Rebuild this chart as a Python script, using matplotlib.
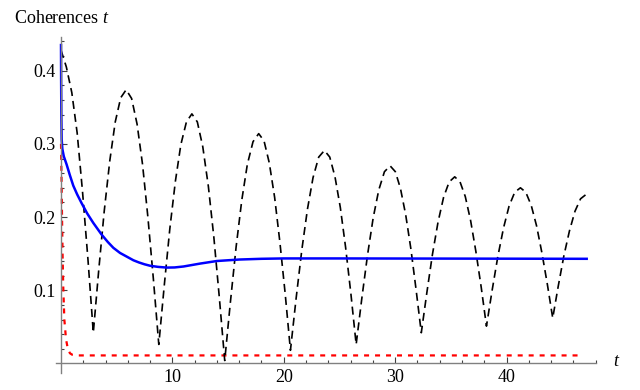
import matplotlib
matplotlib.use('Agg')

import matplotlib.pyplot as plt
from matplotlib.ticker import FixedLocator
import numpy as np

plt.rcParams['font.family'] = 'Liberation Serif'
plt.rcParams['mathtext.fontset'] = 'custom'
plt.rcParams['mathtext.it'] = 'Liberation Serif:italic'
plt.rcParams['mathtext.rm'] = 'Liberation Serif'
plt.rcParams['lines.scale_dashes'] = False

# oscillating coherence (black dashed)
t_osc = [0.0, 0.48, 0.97, 1.45, 1.93, 2.42, 2.9,
         3.39, 3.88, 4.38, 4.87, 5.36, 5.85,
         6.34, 6.83, 7.32, 7.80, 8.29, 8.78,
         9.28, 9.77, 10.27, 10.76, 11.26, 11.75,
         12.24, 12.73, 13.23, 13.72, 14.21, 14.7,
         15.21, 15.72, 16.23, 16.73, 17.24, 17.75,
         18.23, 18.70, 19.18, 19.65, 20.13, 20.6,
         21.11, 21.62, 22.13, 22.63, 23.14, 23.65,
         24.13, 24.60, 25.08, 25.55, 26.03, 26.5,
         27.01, 27.52, 28.03, 28.53, 29.04, 29.55,
         30.02, 30.48, 30.95, 31.42, 31.88, 32.35,
         32.85, 33.35, 33.85, 34.35, 34.85, 35.35,
         35.83, 36.30, 36.78, 37.25, 37.73, 38.2,
         38.71, 39.22, 39.73, 40.23, 40.74, 41.25,
         41.73, 42.22, 42.70, 43.18, 43.67, 44.15,
         44.65, 45.15, 45.65, 46.15, 46.65, 47.15]
c_osc = [0.428, 0.405, 0.370, 0.315, 0.235, 0.142, 0.042,
         0.128, 0.208, 0.277, 0.330, 0.363, 0.374,
         0.362, 0.327, 0.272, 0.200, 0.116, 0.026,
         0.108, 0.184, 0.249, 0.299, 0.330, 0.341,
         0.330, 0.296, 0.242, 0.173, 0.091, 0.004,
         0.084, 0.159, 0.223, 0.272, 0.303, 0.314,
         0.304, 0.274, 0.227, 0.166, 0.095, 0.018,
         0.089, 0.155, 0.211, 0.254, 0.282, 0.291,
         0.282, 0.255, 0.213, 0.159, 0.095, 0.026,
         0.089, 0.148, 0.199, 0.237, 0.262, 0.270,
         0.262, 0.239, 0.203, 0.156, 0.101, 0.042,
         0.097, 0.149, 0.193, 0.227, 0.248, 0.255,
         0.248, 0.228, 0.195, 0.153, 0.104, 0.051,
         0.100, 0.146, 0.185, 0.215, 0.234, 0.240,
         0.234, 0.216, 0.188, 0.151, 0.108, 0.062,
         0.106, 0.147, 0.181, 0.208, 0.225, 0.231]

# damped coherence (blue)
t_damp = [0.0, 0.01, 0.03, 0.06, 0.12, 0.25, 0.5, 0.8, 1.1, 1.45, 1.85,
          2.35, 2.9, 3.65, 4.2, 4.7, 5.3, 5.9, 6.5, 7.0, 7.5, 8.0, 8.7,
          9.5, 10.2, 11.0, 12.5, 14.0, 16.0, 18.0, 20.0, 25.0, 47.2]
c_damp = [0.435, 0.39, 0.34, 0.306, 0.293, 0.283, 0.272, 0.257, 0.243,
          0.231, 0.219, 0.205, 0.192, 0.176, 0.166, 0.158, 0.151, 0.146,
          0.141, 0.138, 0.1355, 0.1335, 0.132, 0.131, 0.1312, 0.1325,
          0.1365, 0.140, 0.142, 0.143, 0.1435, 0.1435, 0.143]

# fast decay (red dotted)
t_fast = [0.0, 0.05, 0.1, 0.15, 0.2, 0.3, 0.45, 0.6, 0.8, 1.0, 1.5, 46.5]
c_fast = [0.30, 0.25, 0.19, 0.14, 0.105, 0.06, 0.033, 0.021, 0.014, 0.012,
          0.011, 0.011]

fig = plt.figure(figsize=(6.4, 3.9), dpi=100)
ax = fig.add_axes([0.0875, 0.0436, 0.844, 0.8615])

ax.plot(t_fast, c_fast, color='#ff0000', lw=1.6, dashes=(3.6, 4.3))
ax.plot(t_osc, c_osc, color='black', lw=1.2, dashes=(5.8, 3.6))
ax.plot(t_damp, c_damp, color='#0000ff', lw=1.8)

ax.set_xlim(-0.45, 48.05)
ax.set_ylim(-0.013, 0.446)

for side in ['top', 'right']:
    ax.spines[side].set_visible(False)
for side in ['left', 'bottom']:
    ax.spines[side].set_position(('data', 0))
    ax.spines[side].set_color('#808080')
    ax.spines[side].set_linewidth(1.0)

ax.xaxis.set_major_locator(FixedLocator([10, 20, 30, 40]))
ax.xaxis.set_minor_locator(FixedLocator([v for v in range(2, 49, 2) if v % 10]))
ax.yaxis.set_major_locator(FixedLocator([0.1, 0.2, 0.3, 0.4]))
ax.yaxis.set_minor_locator(FixedLocator([v / 100 for v in range(2, 45, 2) if v % 10]))
ax.set_xticklabels(['10', '20', '30', '40'])
ax.set_yticklabels(['0.1', '0.2', '0.3', '0.4'])

ax.tick_params(which='both', direction='in', color='#404040', width=0.8,
               labelsize=13, pad=4)
ax.tick_params(which='major', length=4)
ax.tick_params(which='minor', length=2.5)

fig.text(14 / 640, 1 - 23 / 390, 'Coherences $t$', fontsize=13,
         ha='left', va='baseline')
fig.text(617 / 640, 1 - 362 / 390, '$t$', fontsize=13, ha='center', va='center')

fig.savefig('out.png', dpi=100)
